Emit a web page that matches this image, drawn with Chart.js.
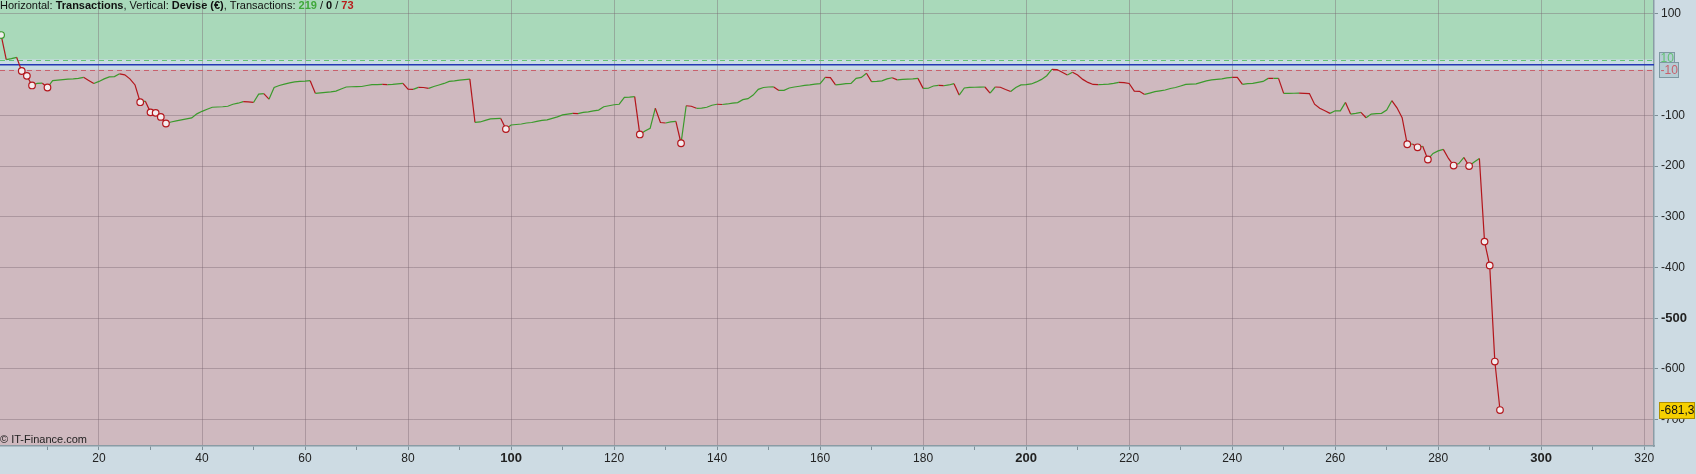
<!DOCTYPE html>
<html>
<head>
<meta charset="utf-8">
<script src="https://cdn.jsdelivr.net/npm/chart.js@4.4.1/dist/chart.umd.min.js"></script>
<style>
body{margin:0;background:#cddbe3;}
canvas{display:block;}
</style>
</head>
<body>
<canvas id="chart" width="1696" height="474"></canvas>
<script>
// Equity curve, one value per closed transaction (EUR)
var equity = [
  58.5, 10, 12, 14.5, -12.5, -22, -41, -37, -36.5, -45,
  -31.5, -30.5, -29.5, -28.5, -28, -27, -25, -31, -37, -33,
  -28, -24, -23.5, -18, -20, -28, -40, -74, -72, -94,
  -95, -103, -116, -113, -111, -109, -107, -105, -97, -92,
  -88, -84, -83.5, -83, -82, -78, -76, -73, -73.5, -74.5,
  -58, -57, -68, -45, -41, -38.5, -36, -34, -33, -32.5,
  -31.5, -56.5, -55.5, -54.5, -53.5, -52, -48, -44, -43.5, -43.2,
  -43, -41, -39.5, -39.3, -39, -39.2, -38.8, -38, -37, -48.5,
  -48.7, -44.7, -45, -46.8, -43, -40, -37, -33, -32, -30.5,
  -29.5, -28.5, -113.8, -113, -110, -107, -106.5, -106, -127, -119,
  -118, -117, -115, -114, -112, -110, -109, -106, -103, -99,
  -97.5, -96, -96.5, -94, -93, -91, -89.5, -83, -81, -79,
  -78, -64.5, -64, -63, -137.6, -131, -125.7, -86, -114, -115,
  -113, -112, -155, -81, -82, -86, -85.5, -84, -80, -78,
  -78.5, -77.5, -76, -74.7, -69, -67, -60, -48.7, -45, -44,
  -43.8, -50.7, -50.5, -46, -44, -42.5, -41, -40, -38.5, -37.5,
  -25, -25.5, -40, -38.8, -37.5, -37, -27, -25, -17, -33.6,
  -33, -32, -28, -25.7, -30, -29, -28.6, -28, -27, -46.7,
  -46.5, -42, -41, -41.5, -40, -37.5, -60, -46, -44.7, -44.5,
  -44.2, -44, -56, -44, -44.5, -49, -53, -45, -40, -39.5,
  -38, -34, -29, -21.7, -9.2, -9.5, -15, -20.4, -15, -20.4,
  -29, -35, -39, -39.2, -39, -38.5, -37, -35, -35.5, -37,
  -52, -52.5, -58.6, -56, -53.3, -51.5, -50, -47, -45, -42,
  -39, -38.5, -38, -35, -32, -30, -29, -28, -26, -25,
  -25.2, -38.8, -37.5, -37, -35, -33, -27, -27.2, -27, -56.6,
  -56.5, -56.3, -56, -56.5, -57, -78, -86, -91, -96, -91,
  -91, -74.4, -97.4, -96, -94, -104.6, -97.4, -96.5, -96, -89.5,
  -71, -85, -104.6, -157, -156.5, -163, -161, -187, -175, -170,
  -167, -185, -199, -195, -183, -200, -192, -185, -349, -396,
  -585.6, -681.3
];

// Axis ticks
var xTicks = [10, 20, 30, 40, 50, 60, 70, 80, 90, 100, 110, 120, 130, 140, 150, 160,
  170, 180, 190, 200, 210, 220, 230, 240, 250, 260, 270, 280, 290, 300, 310, 320];
var yTicks = [100, -100, -200, -300, -400, -500, -600, -700];

// Threshold lines and labels
var upperLevel = 10;
var lowerLevel = -10;
var lastLabel = '-681,3';

// Transactions count: winners / neutral / losers
var winCount = 219, flatCount = 0, lossCount = 73;

var FONT = "'Liberation Sans', Arial, sans-serif";
var GREEN = '#3b9a2c';
var RED = '#b3161c';

// Points: x = transaction number
var points = equity.map(function(v, i) { return {x: i + 1, y: v}; });

// A circle is drawn on each new low below zero (and on the first trade)
function isMarked(i) {
  if (i === 0) return true;
  var v = equity[i];
  if (v >= 0) return false;
  for (var k = 0; k < i; k++) {
    if (equity[k] <= v) return false;
  }
  return true;
}

var bgPlugin = {
  id: 'zones',
  beforeDraw: function(chart) {
    var ctx = chart.ctx, a = chart.chartArea, y = chart.scales.y;
    ctx.save();
    ctx.fillStyle = '#cddbe3';
    ctx.fillRect(0, 0, chart.width, chart.height);
    var yUp = y.getPixelForValue(upperLevel), yLo = y.getPixelForValue(lowerLevel);
    ctx.fillStyle = '#a9d9ba';
    ctx.fillRect(a.left, a.top, a.right - a.left, yUp - a.top);
    ctx.fillStyle = '#c7dce3';
    ctx.fillRect(a.left, yUp, a.right - a.left, yLo - yUp);
    ctx.fillStyle = '#cfb9bf';
    ctx.fillRect(a.left, yLo, a.right - a.left, a.bottom - yLo);
    ctx.restore();
  },
  beforeDatasetsDraw: function(chart) {
    var ctx = chart.ctx, a = chart.chartArea, y = chart.scales.y;
    ctx.save();
    ctx.lineWidth = 1;
    ctx.setLineDash([5, 4]);
    var p = Math.round(y.getPixelForValue(upperLevel)) + 0.5;
    ctx.strokeStyle = '#62c274';
    ctx.beginPath(); ctx.moveTo(a.left, p); ctx.lineTo(a.right, p); ctx.stroke();
    p = Math.round(y.getPixelForValue(lowerLevel)) + 0.5;
    ctx.strokeStyle = '#c8606c';
    ctx.beginPath(); ctx.moveTo(a.left, p); ctx.lineTo(a.right, p); ctx.stroke();
    ctx.setLineDash([]);
    ctx.lineWidth = 1.5;
    p = y.getPixelForValue(0);
    ctx.strokeStyle = '#2438b4';
    ctx.beginPath(); ctx.moveTo(a.left, p); ctx.lineTo(a.right, p); ctx.stroke();
    ctx.restore();
  },
  afterDraw: function(chart) {
    var ctx = chart.ctx, a = chart.chartArea, y = chart.scales.y;
    ctx.save();
    // title
    var parts = [
      ['Horizontal: ', 'normal', '#111'], ['Transactions', 'bold', '#111'],
      [', Vertical: ', 'normal', '#111'], ['Devise (€)', 'bold', '#111'],
      [', Transactions: ', 'normal', '#111'], [String(winCount), 'bold', '#3fa83a'],
      [' / ', 'normal', '#111'], [String(flatCount), 'bold', '#111'],
      [' / ', 'normal', '#111'], [String(lossCount), 'bold', '#b81c1c']
    ];
    var x = 0;
    ctx.textBaseline = 'alphabetic';
    parts.forEach(function(pt) {
      ctx.font = pt[1] + ' 11px ' + FONT;
      ctx.fillStyle = pt[2];
      ctx.fillText(pt[0], x, 9);
      x += ctx.measureText(pt[0]).width;
    });
    // copyright
    ctx.font = '11px ' + FONT;
    ctx.fillStyle = '#222';
    ctx.fillText('\u00a9 IT-Finance.com', 0, 443);

    // right side level boxes
    function box(text, cy, w, h, fill, stroke, color) {
      var bx = a.right + 5.5, by = Math.round(cy - h / 2) + 0.5;
      ctx.fillStyle = fill;
      ctx.fillRect(bx, by, w, h);
      ctx.strokeStyle = stroke;
      ctx.lineWidth = 1;
      ctx.strokeRect(bx, by, w, h);
      ctx.font = '12px ' + FONT;
      ctx.fillStyle = color;
      ctx.textBaseline = 'middle';
      ctx.fillText(text, bx + 1, cy + 1);
    }
    box(String(upperLevel), y.getPixelForValue(upperLevel) - 2, 15, 12, '#b6ccd4', '#7f98a2', '#62c274');
    box(String(lowerLevel), y.getPixelForValue(lowerLevel), 19, 15, '#b6ccd4', '#7f98a2', '#c8606c');
    box(lastLabel, y.getPixelForValue(equity[equity.length - 1]), 35, 16, '#f6d000', '#b09000', '#111');
    ctx.restore();
  }
};

var equityChart = new Chart('chart', {
  type: 'line',
  data: {
    datasets: [{
      data: points,
      borderWidth: 1.2,
      tension: 0,
      segment: {
        borderColor: function(c) { return c.p1.parsed.y >= c.p0.parsed.y ? GREEN : RED; }
      },
      borderColor: GREEN,
      pointRadius: function(c) { return isMarked(c.dataIndex) ? 3.3 : 0; },
      pointBackgroundColor: '#f4ecee',
      pointBorderColor: function(c) { return c.dataIndex === 0 ? GREEN : RED; },
      pointBorderWidth: 1.2
    }]
  },
  options: {
    responsive: false,
    animation: false,
    layout: {padding: 0, autoPadding: false},
    plugins: {legend: {display: false}, tooltip: {enabled: false}},
    scales: {
      x: {
        type: 'linear',
        min: 0.78,
        max: 321.9,
        afterBuildTicks: function(s) { s.ticks = xTicks.map(function(v) { return {value: v}; }); },
        afterFit: function(s) { s.height = 28; s.paddingLeft = 0; s.paddingRight = 0; },
        ticks: {
          autoSkip: false,
          maxRotation: 0,
          padding: 1,
          color: '#222',
          callback: function(v) { return v % 20 === 0 ? String(v) : ''; },
          font: function(c) {
            var bold = c.tick && c.tick.value % 100 === 0;
            return {family: FONT, size: bold ? 13 : 12, weight: bold ? 'bold' : 'normal'};
          }
        },
        grid: {
          color: function(c) { return c.tick && c.tick.value % 20 === 0 ? 'rgba(120,100,112,0.4)' : 'rgba(0,0,0,0)'; },
          tickColor: '#7d8f98',
          tickLength: 4
        },
        border: {display: true, color: '#8a9ca5', width: 1.5}
      },
      y: {
        type: 'linear',
        position: 'right',
        min: -752.2,
        max: 127.6,
        afterBuildTicks: function(s) { s.ticks = yTicks.map(function(v) { return {value: v}; }); },
        afterFit: function(s) { s.width = 42; s.paddingTop = 0; s.paddingBottom = 0; },
        ticks: {
          padding: 3,
          color: '#222',
          callback: function(v) { return String(v); },
          font: function(c) {
            var bold = c.tick && c.tick.value === -500;
            return {family: FONT, size: bold ? 13 : 12, weight: bold ? 'bold' : 'normal'};
          }
        },
        grid: {
          color: 'rgba(120,100,112,0.4)',
          tickColor: '#7d8f98',
          tickLength: 4
        },
        border: {display: true, color: '#8a9ca5', width: 1.5}
      }
    }
  },
  plugins: [bgPlugin]
});
</script>
</body>
</html>
